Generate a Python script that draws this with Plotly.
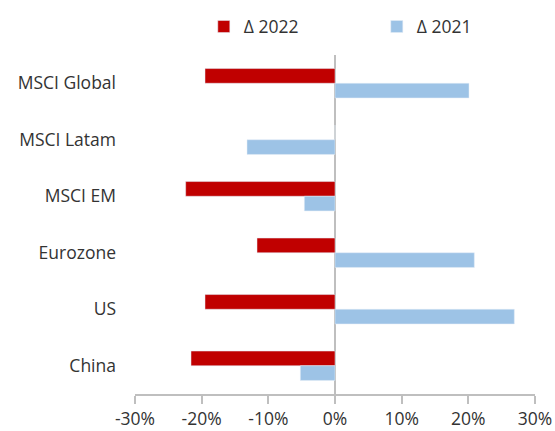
import plotly.graph_objects as go

categories = ["MSCI Global", "MSCI Latam", "MSCI EM", "Eurozone", "US", "China"]
delta_2022 = [-0.195, 0.0, -0.224, -0.117, -0.195, -0.216]
delta_2021 = [0.201, -0.132, -0.046, 0.209, 0.269, -0.052]
x_ticks = [-0.3, -0.2, -0.1, 0.0, 0.1, 0.2, 0.3]
x_tick_labels = ["-30%", "-20%", "-10%", "0%", "10%", "20%", "30%"]

font_family = "'Open Sans', sans-serif"
text_color = "#333333"
axis_color = "#BFBFBF"

fig = go.Figure()
fig.add_trace(go.Bar(
    y=categories, x=delta_2022, orientation="h", name="Δ 2022",
    marker=dict(color="#C00000"),
))
fig.add_trace(go.Bar(
    y=categories, x=delta_2021, orientation="h", name="Δ 2021",
    marker=dict(color="#9DC3E6"),
))

fig.update_layout(
    width=555, height=431,
    margin=dict(l=135, r=20, t=55, b=37),
    paper_bgcolor="white", plot_bgcolor="white",
    barmode="group", bargap=0.48, bargroupgap=0,
    font=dict(family=font_family, size=17.5, color=text_color),
    showlegend=True,
    legend=dict(
        orientation="h", x=0.172, xanchor="left", y=0.98, yanchor="top",
        yref="container", entrywidth=128, entrywidthmode="pixels",
        font=dict(size=17.5, color=text_color), itemwidth=30,
        traceorder="normal",
    ),
)

fig.update_xaxes(
    range=[-0.3, 0.3], tickvals=x_ticks, ticktext=x_tick_labels,
    automargin=False,
    showgrid=False, zeroline=True, zerolinecolor=axis_color, zerolinewidth=2,
    showline=True, linecolor=axis_color, linewidth=1.5,
    ticks="outside", ticklen=8, tickcolor=axis_color, tickwidth=1.5,
    tickfont=dict(size=17.5, color=text_color),
)
fig.update_yaxes(
    autorange="reversed", showgrid=False, zeroline=False, showline=False,
    automargin=False,
    ticks="", ticklabelstandoff=18, tickfont=dict(size=17.5, color=text_color),
)

fig.write_html("out.html")
